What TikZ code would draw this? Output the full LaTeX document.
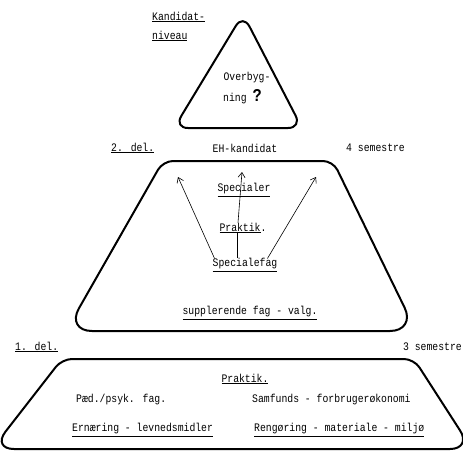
\documentclass[tikz,border=0pt]{standalone}
\usepackage{fontspec}
\setmainfont{Liberation Mono}[FakeStretch=0.85]
\usetikzlibrary{arrows.meta}
\newcommand{\myul}[1]{\underline{#1}}
\begin{document}
\begin{tikzpicture}[x=1pt,y=-1pt,
  shapeline/.style={line width=2pt, line join=round},
  lbl/.style={inner sep=0pt, font=\fontsize{11.5}{13}\selectfont},
  arr/.style={line width=0.6pt, -{Straight Barb[length=5pt,width=7pt]}},
  conn/.style={line width=0.6pt}]
\useasboundingbox (0,0) rectangle (463,452);
% triangle
\draw[shapeline, rounded corners=14pt] (243,14) -- (302,128) -- (174,128) -- cycle;
% middle trapezoid
\draw[shapeline, rounded corners=10pt] (250,161) -- (333,161) [rounded corners=26pt] -- (416,331) -- (66,331) [rounded corners=10pt] -- (163,161) -- cycle;
% bottom trapezoid
\draw[shapeline, rounded corners=10pt] (250,359) -- (414,359) [rounded corners=22pt] -- (472,449) -- (-8,449) [rounded corners=10pt] -- (62,359) -- cycle;
% texts
\node[lbl, anchor=west] (kand1) at (152,17) {\myul{Kandidat-}};
\node[lbl, anchor=west] (kand2) at (152,36) {\myul{niveau}};
\node[lbl] (over1) at (247,78) {Overbyg-};
\node[lbl, anchor=west] (over2) at (223,97) {ning \textbf{\fontsize{18}{18}\selectfont ?}};
\node[lbl, anchor=west] (del2) at (111,148) {\myul{2. del.}};
\node[lbl] (eh) at (245,148) {EH-kandidat};
\node[lbl, anchor=west] (sem4) at (346,148) {4 semestre};
\node[lbl] (spec) at (244,190) {\myul{Specialer}};
\node[lbl] (prak2) at (243,228) {\myul{Praktik}.};
\node[lbl] (specfag) at (245,265) {\myul{Specialefag}};
\node[lbl] (suppl) at (250,313) {\myul{supplerende fag - valg.}};
\node[lbl, anchor=west] (del1) at (15,347) {\myul{1. del.}};
\node[lbl, anchor=east] (sem3) at (462,347) {3 semestre};
\node[lbl] (prak1) at (245,379) {\myul{Praktik.}};
\node[lbl, anchor=west] (paed) at (76,400) {Pæd./psyk. fag.};
\node[lbl, anchor=west] (samf) at (252,400) {Samfunds - forbrugerøkonomi};
\node[lbl, anchor=west] (ern) at (72,430) {\myul{Ernæring - levnedsmidler}};
\node[lbl, anchor=west] (reng) at (254,430) {\myul{Rengøring - materiale - miljø}};
% arrows
\coordinate (la) at (178,177);
\coordinate (ma) at (242,172);
\coordinate (ra) at (316,177);
\draw[arr] ([xshift=2pt]specfag.north west) -- (la);
\draw[arr] ([xshift=-10pt]specfag.north east) -- (ra);
\draw[conn] ([xshift=-8pt]specfag.north) -- ([xshift=-6pt]prak2.south);
\draw[arr] ([xshift=-5pt]prak2.north) -- (ma);
\end{tikzpicture}
\end{document}
